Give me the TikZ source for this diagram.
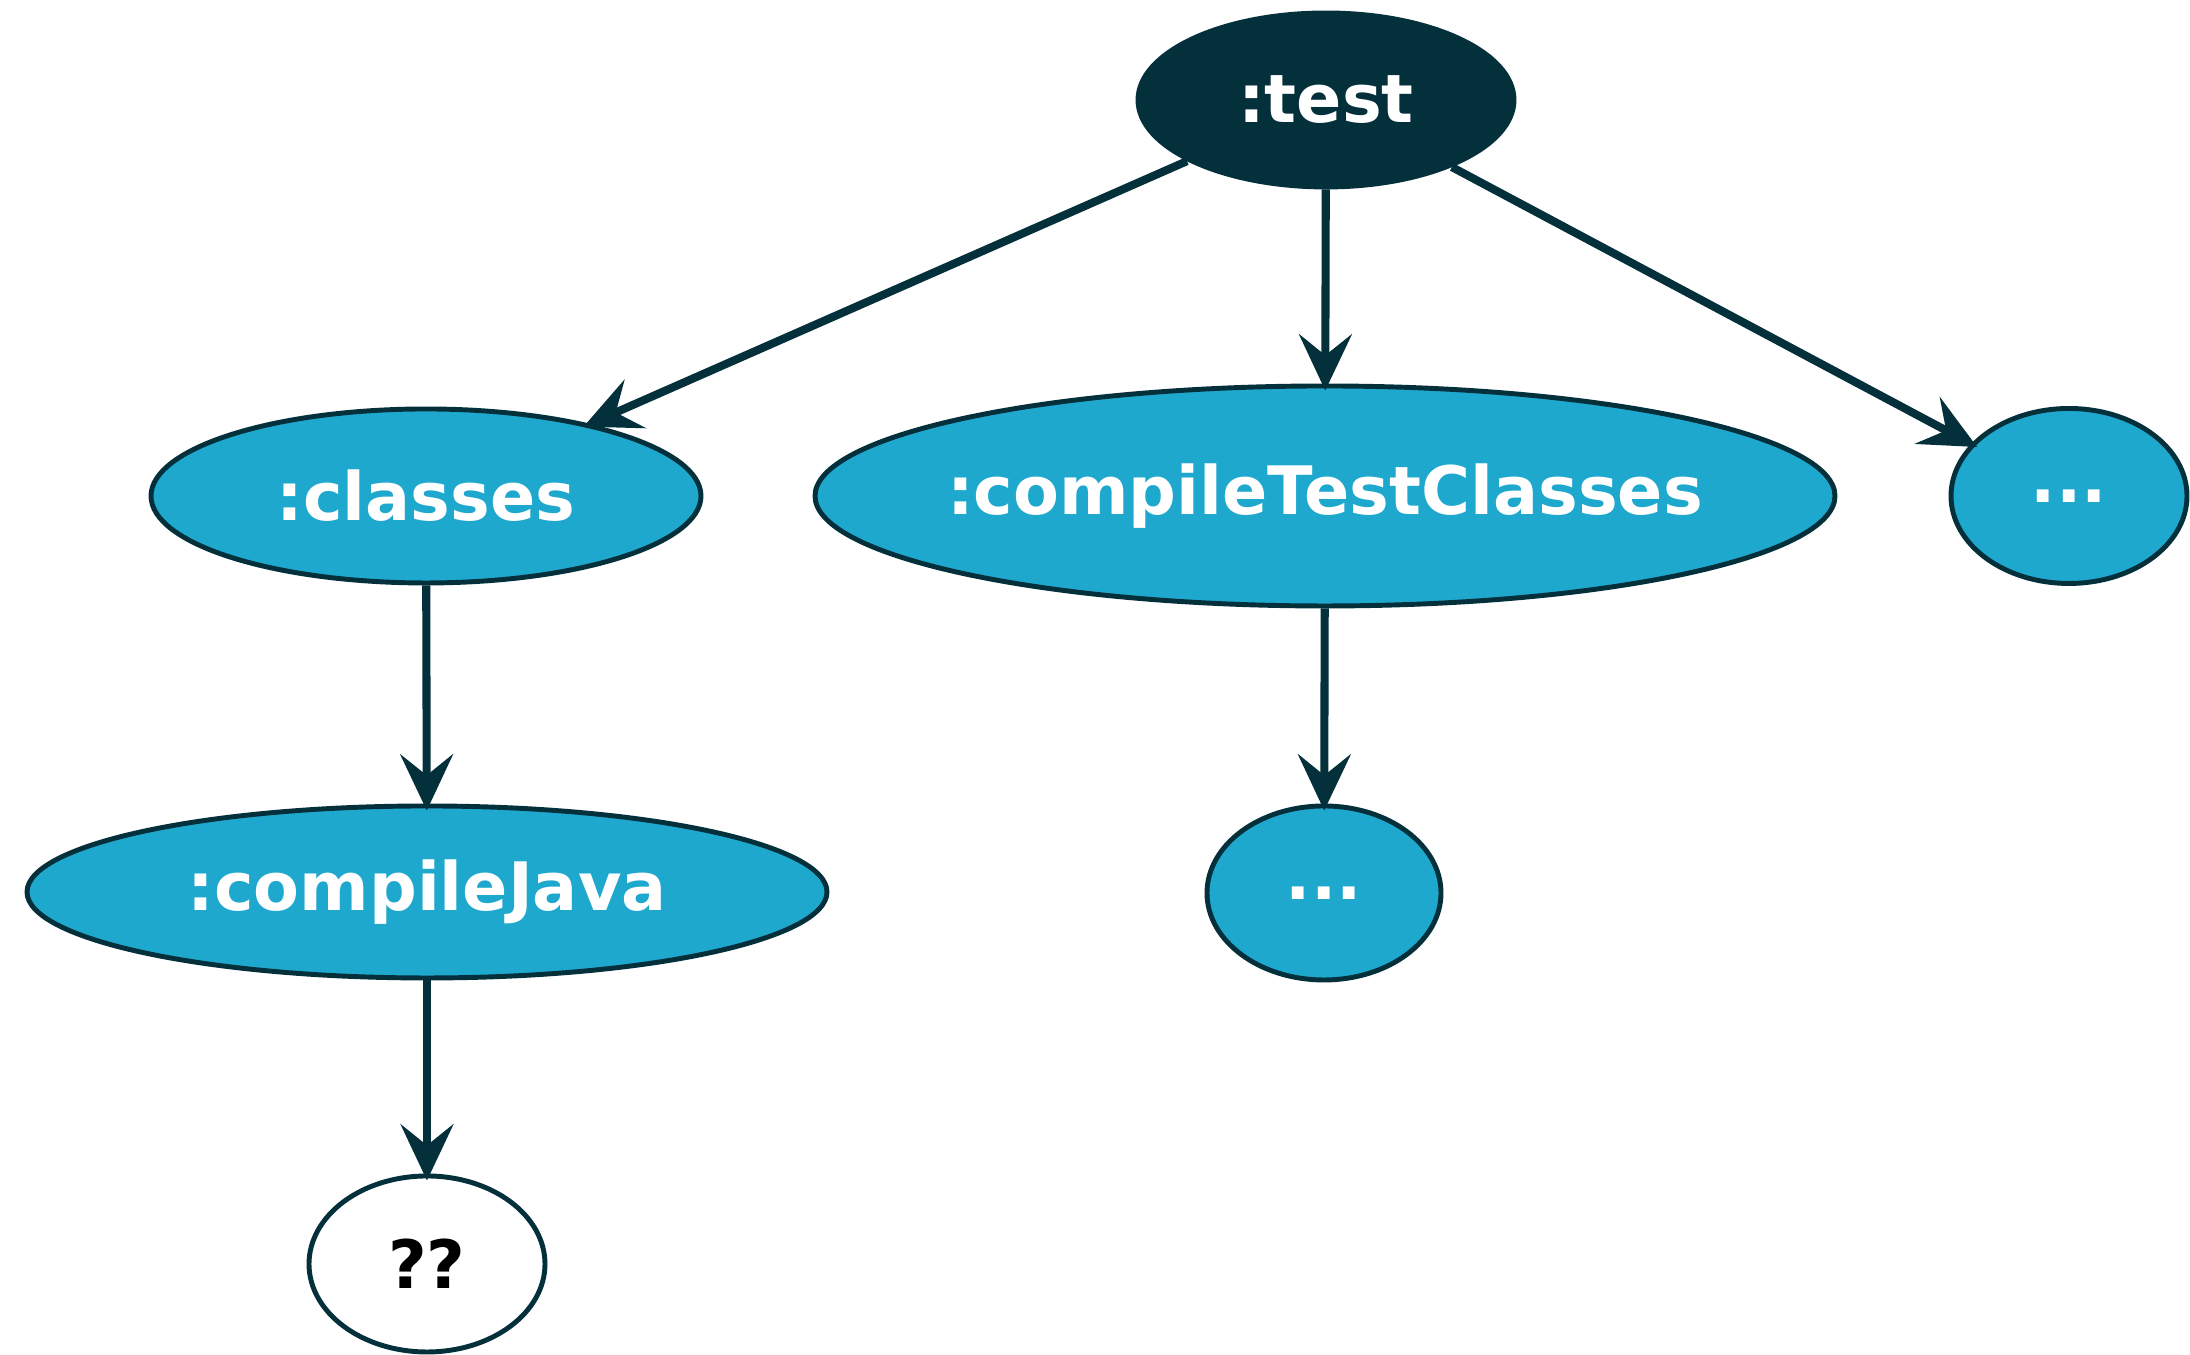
\documentclass[tikz,border=0pt]{standalone}
\usepackage{fontspec}
\setmainfont{DejaVu Sans}
\usepackage{tikz}
\usetikzlibrary{shapes.geometric,arrows.meta}
\definecolor{taskdark}{RGB}{4,48,60}
\definecolor{taskblue}{RGB}{31,168,206}

\begin{document}
\begin{tikzpicture}[
	task/.style={ellipse, draw=taskdark, line width=1.4pt, fill=taskblue, text=white, inner sep=0pt,
		font=\fontsize{19}{23}\selectfont\bfseries},
	dep/.style={draw=taskdark, line width=2.3pt, shorten >=-2pt,
		-{Stealth[length=16pt,width=15pt,inset=6pt]}}
	]
			%%%%% START %%%%%
			\useasboundingbox (0, 0) rectangle (21.9, 13.55);
			
			\node[task, fill=taskdark, minimum width=3.76cm, minimum height=1.74cm] (test) at (13.26, 12.55) {:test};
			
			\node[task, minimum width=5.5cm, minimum height=1.74cm] (classes) at (4.26, 8.59) {:classes};
			\node[task, minimum width=10.2cm, minimum height=2.2cm] (compileTest) at (13.25, 8.59) {\makebox[0pt]{:compileTestClasses}};
			\node[task, minimum width=2.36cm, minimum height=1.75cm] (dotsA) at (20.69, 8.59) {...};
			
			\node[task, minimum width=8cm, minimum height=1.72cm] (compileJava) at (4.27, 4.63) {:compileJava};
			\node[task, minimum width=2.34cm, minimum height=1.74cm] (dotsB) at (13.24, 4.62) {...};
			
			\node[task, fill=white, text=black, minimum width=2.36cm, minimum height=1.76cm] (unknown) at (4.27, 0.91) {??};
			
			\draw[dep] (test) -- (classes);
			\draw[dep] (test) -- (compileTest);
			\draw[dep] (test) -- (dotsA);
			\draw[dep] (classes) -- (compileJava);
			\draw[dep] (compileTest) -- (dotsB);
			\draw[dep] (compileJava) -- (unknown);
			%%%%% END %%%%%
\end{tikzpicture}
\end{document}
